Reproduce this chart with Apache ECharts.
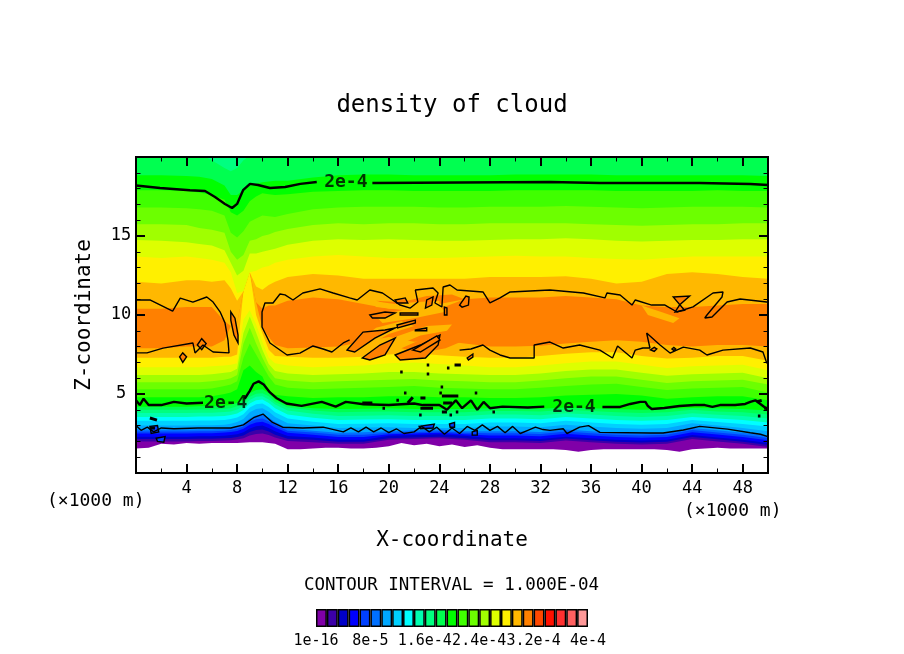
<!DOCTYPE html>
<html>
<head>
<meta charset="utf-8">
<title>density of cloud</title>
<script src="https://cdn.jsdelivr.net/npm/echarts@6/dist/echarts.min.js"></script>
<style>
  html, body { margin: 0; padding: 0; background: #fff; }
  #chart { width: 904px; height: 654px; }
</style>
</head>
<body>
<div id="chart"></div>
<script>
// colour cells of the key, lowest first (each is 1.6e-5 wide)
var cellColors = ['#8000A8', '#3C00A8', '#0000C8', '#0000FF', '#0040FF', '#0070FF', '#00A8FF', '#00D0FF', '#00FFFF',
  '#00FFB0', '#00FF80', '#00FF50', '#00FF00', '#40FF00', '#6CFF00', '#A0FF00', '#DDFF00', '#FFF000', '#FFB800',
  '#FF8000', '#FF4800', '#FF1000', '#FF3030', '#FF6060', '#FF9898'];
var cellWidth = 1.6e-5;
var keyLabels = ['1e-16', '8e-5', '1.6e-4', '2.4e-4', '3.2e-4', '4e-4'];

// x (km) where the colour edges were read
var xGrid = [0, 2, 4, 5, 6, 7, 7.5, 8, 8.5, 9, 9.5, 10, 10.5, 11, 12, 14, 16, 18, 20, 22, 24, 26, 28, 30, 32, 34, 36, 38, 40, 42, 44, 46, 48, 50];
var xFine = [0, 1, 2, 3, 4, 5, 6, 7, 8, 9, 10, 11, 12, 13, 14, 15, 16, 17, 18, 19, 20, 21, 22, 23, 24, 25, 26, 27, 28, 29, 30, 31, 32, 33, 34, 35, 36, 37, 38, 39, 40, 41, 42, 43, 44, 45, 46, 47, 48, 49, 50];

// lower edge of the purple, on xFine
var edge1 = [1.55, 1.6, 1.85, 1.8, 1.9, 1.85, 1.9, 1.9, 1.9, 1.95, 1.95, 1.85, 1.5, 1.5, 1.55, 1.6, 1.6, 1.55, 1.55, 1.6, 1.7, 1.9, 1.75, 1.85, 1.7, 1.8, 1.65, 1.75, 1.6, 1.5, 1.5, 1.5, 1.5, 1.5, 1.45, 1.35, 1.45, 1.5, 1.5, 1.5, 1.5, 1.5, 1.45, 1.35, 1.5, 1.55, 1.6, 1.55, 1.55, 1.55, 1.55];

// lower edge of each next cell going up, on xGrid
var edge2 = [2.0, 2.0, 2.0, 2.02, 2.02, 2.05, 2.07, 2.12, 2.2, 2.38, 2.47, 2.5, 2.4, 2.25, 2.02, 1.95, 1.85, 1.85, 2.1, 2.15, 2.2, 2.1, 1.95, 1.95, 1.9, 2.05, 1.95, 1.85, 1.8, 1.85, 2.15, 2.0, 1.85, 1.65];
var edge3 = [2.15, 2.15, 2.15, 2.16, 2.16, 2.2, 2.22, 2.28, 2.38, 2.6, 2.72, 2.75, 2.62, 2.42, 2.17, 2.1, 1.98, 1.98, 2.2, 2.25, 2.3, 2.2, 2.08, 2.08, 2.03, 2.18, 2.08, 1.98, 1.93, 1.98, 2.28, 2.13, 1.98, 1.78];
var edge4 = [2.3, 2.3, 2.3, 2.32, 2.32, 2.36, 2.4, 2.45, 2.58, 2.82, 2.96, 3.0, 2.85, 2.65, 2.34, 2.25, 2.1, 2.1, 2.35, 2.4, 2.45, 2.35, 2.2, 2.2, 2.15, 2.3, 2.2, 2.1, 2.05, 2.1, 2.4, 2.25, 2.1, 1.9];
var edge5 = [2.5, 2.5, 2.5, 2.52, 2.52, 2.56, 2.6, 2.66, 2.8, 3.05, 3.2, 3.25, 3.1, 2.88, 2.54, 2.42, 2.28, 2.28, 2.45, 2.5, 2.55, 2.45, 2.38, 2.38, 2.33, 2.48, 2.38, 2.28, 2.23, 2.28, 2.58, 2.43, 2.28, 2.08];
var edge6 = [2.62, 2.62, 2.62, 2.64, 2.64, 2.68, 2.72, 2.8, 2.95, 3.25, 3.4, 3.45, 3.28, 3.05, 2.68, 2.56, 2.42, 2.42, 2.55, 2.6, 2.65, 2.55, 2.52, 2.52, 2.47, 2.62, 2.52, 2.42, 2.37, 2.42, 2.72, 2.57, 2.42, 2.22];
var edge7 = [2.75, 2.75, 2.75, 2.77, 2.77, 2.82, 2.86, 2.95, 3.13, 3.45, 3.65, 3.7, 3.5, 3.22, 2.82, 2.68, 2.55, 2.58, 2.65, 2.7, 2.75, 2.65, 2.65, 2.65, 2.6, 2.75, 2.65, 2.55, 2.5, 2.55, 2.85, 2.7, 2.55, 2.35];
var edge8 = [3.0, 3.0, 3.0, 3.02, 3.02, 3.06, 3.12, 3.22, 3.42, 3.85, 4.05, 4.1, 3.88, 3.55, 3.15, 3.0, 2.85, 2.88, 2.9, 2.85, 2.85, 2.85, 2.95, 2.95, 2.9, 3.05, 2.95, 2.85, 2.8, 2.85, 3.15, 3.0, 2.85, 2.65];
var edge9 = [3.3, 3.3, 3.3, 3.32, 3.32, 3.36, 3.42, 3.52, 3.72, 4.15, 4.35, 4.4, 4.18, 3.85, 3.45, 3.25, 3.1, 3.12, 3.15, 3.1, 3.1, 3.1, 3.2, 3.2, 3.15, 3.3, 3.2, 3.1, 3.05, 3.1, 3.35, 3.22, 3.1, 2.95];
var edge10 = [3.55, 3.55, 3.55, 3.57, 3.57, 3.6, 3.67, 3.77, 3.98, 4.4, 4.6, 4.65, 4.43, 4.1, 3.7, 3.5, 3.35, 3.38, 3.4, 3.35, 3.35, 3.35, 3.45, 3.45, 3.4, 3.55, 3.45, 3.35, 3.3, 3.35, 3.55, 3.45, 3.35, 3.2];
var edge11 = [3.8, 3.8, 3.8, 3.82, 3.82, 3.86, 3.9, 4.02, 4.22, 4.62, 4.82, 4.85, 4.65, 4.33, 3.95, 3.75, 3.6, 3.63, 3.65, 3.6, 3.6, 3.6, 3.7, 3.7, 3.65, 3.78, 3.7, 3.6, 3.55, 3.6, 3.78, 3.68, 3.6, 3.45];
var edge12 = [4.0, 4.0, 4.0, 4.02, 4.02, 4.06, 4.1, 4.22, 4.42, 4.82, 5.02, 5.05, 4.85, 4.5, 4.15, 3.95, 3.85, 3.87, 3.9, 3.85, 3.85, 3.85, 3.92, 3.92, 3.9, 4.0, 3.92, 3.85, 3.8, 3.85, 4.0, 3.9, 3.85, 3.7];
var edge13 = [4.2, 4.2, 4.2, 4.22, 4.22, 4.25, 4.3, 4.45, 4.65, 5.05, 5.25, 5.3, 5.05, 4.65, 4.25, 4.1, 4.05, 4.07, 4.1, 4.05, 4.05, 4.05, 4.1, 4.1, 4.07, 4.15, 4.1, 4.05, 4.0, 4.05, 4.12, 4.1, 4.05, 3.95];
var edge14 = [4.8, 4.8, 4.8, 4.8, 4.85, 5.0, 5.1, 5.3, 6.5, 6.8, 6.4, 6.1, 5.2, 4.95, 4.85, 4.75, 4.8, 4.8, 4.85, 4.85, 4.8, 4.8, 4.75, 4.75, 4.8, 4.9, 4.95, 5.0, 4.9, 4.7, 4.8, 4.85, 4.85, 4.6];
var edge15 = [5.3, 5.3, 5.3, 5.3, 5.35, 5.5, 5.6, 5.8, 7.3, 8.2, 7.5, 6.8, 6.1, 5.6, 5.4, 5.3, 5.35, 5.4, 5.45, 5.5, 5.4, 5.35, 5.3, 5.3, 5.4, 5.5, 5.6, 5.65, 5.45, 5.25, 5.35, 5.4, 5.45, 5.1];
var edge16 = [5.75, 5.75, 5.75, 5.75, 5.8, 5.9, 6, 6.2, 8.2, 9.2, 8.2, 7.3, 6.5, 6, 5.85, 5.75, 5.8, 5.85, 5.9, 5.95, 5.85, 5.8, 5.75, 5.75, 5.85, 6, 6.1, 6.1, 5.9, 5.7, 5.8, 5.85, 5.9, 5.6];
var edge17 = [6.2, 6.2, 6.2, 6.2, 6.25, 6.35, 6.4, 6.6, 8.86, 9.9, 8.9, 7.8, 6.9, 6.45, 6.3, 6.2, 6.25, 6.3, 6.4, 6.4, 6.3, 6.25, 6.2, 6.2, 6.3, 6.45, 6.55, 6.55, 6.35, 6.15, 6.25, 6.3, 6.35, 6];
var edge18 = [6.7, 6.7, 6.7, 6.7, 6.75, 6.8, 6.85, 6.95, 9.7, 10.3, 9.4, 8.3, 7.3, 6.95, 6.8, 6.7, 6.75, 6.8, 6.95, 7, 6.9, 6.8, 6.7, 6.7, 6.8, 6.95, 7.05, 7.05, 6.85, 6.65, 6.75, 6.8, 6.85, 6.5];
var edge19 = [7.3, 7.3, 7.3, 7.3, 7.3, 7.35, 7.35, 7.5, 11.5, 12.7, 10, 8.85, 7.8, 7.4, 7.35, 7.3, 7.3, 7.35, 7.5, 7.6, 7.45, 7.35, 7.3, 7.3, 7.4, 7.55, 7.65, 7.65, 7.4, 7.25, 7.3, 7.4, 7.4, 7.1];
var edge20 = [7.9, 7.9, 8.0, 8.0, 8.0, 8.4, 9.3, 9.5, 11.5, 12.7, 10.8, 9.2, 8.6, 8.1, 7.9, 7.95, 8.0, 8.3, 8.6, 8.3, 8.4, 8.2, 8.0, 8.0, 8.05, 8.2, 8.3, 8.4, 8.3, 8.1, 8.0, 8.1, 8.1, 8.0];

// upper edges, going back down the key
var topOrange = [10.4, 10.4, 10.5, 10.5, 10.5, 9.6, 9.3, 9.5, 11.5, 12.7, 10.8, 10.4, 10.6, 10.6, 10.9, 11.1, 11, 10.7, 10.4, 10.3, 10.4, 11, 11.1, 11.1, 11.1, 11.2, 11.1, 11, 10.6, 10.5, 10.5, 10.6, 10.7, 10.7];
var topAmber = [12.1, 12, 12.2, 12.2, 12.1, 12.2, 11.7, 10.9, 11.5, 12.7, 11.8, 11.6, 11.9, 12.1, 12.4, 12.6, 12.5, 12.3, 12.3, 12.3, 12.3, 12.3, 12.4, 12.4, 12.4, 12.45, 12.3, 12, 12.1, 12.6, 12.7, 12.6, 12.4, 12.3];
var topYellow = [13.7, 13.6, 13.7, 13.6, 13.5, 13.3, 12.7, 11.4, 11.5, 12.7, 12.8, 13, 13.1, 13.3, 13.5, 13.7, 13.8, 13.7, 13.6, 13.6, 13.6, 13.65, 13.7, 13.75, 13.7, 13.7, 13.6, 13.55, 13.5, 13.6, 13.7, 13.7, 13.7, 13.7];
var topLemon = [14.75, 14.7, 14.6, 14.5, 14.4, 14.1, 13.3, 12.5, 12.8, 13.9, 13.9, 14, 14.1, 14.2, 14.45, 14.7, 14.8, 14.75, 14.8, 14.75, 14.7, 14.7, 14.75, 14.8, 14.8, 14.85, 14.8, 14.7, 14.65, 14.7, 14.75, 14.75, 14.8, 14.8];
var topLime = [15.75, 15.75, 15.7, 15.5, 15.4, 15.2, 14, 13.5, 13.8, 14.7, 14.8, 15, 15.1, 15.25, 15.45, 15.7, 15.8, 15.75, 15.8, 15.8, 15.75, 15.75, 15.8, 15.8, 15.8, 15.8, 15.75, 15.7, 15.65, 15.7, 15.75, 15.75, 15.8, 15.8];
var topChartreuse = [16.8, 16.8, 16.75, 16.7, 16.6, 16.3, 15.2, 14.9, 15.3, 15.9, 16.1, 16.3, 16.25, 16.2, 16.4, 16.7, 16.8, 16.85, 16.85, 16.85, 16.8, 16.8, 16.85, 16.85, 16.85, 16.9, 16.85, 16.8, 16.75, 16.8, 16.85, 16.85, 16.85, 16.8];
var topLeaf = [17.9, 17.9, 17.85, 17.75, 17.6, 17.3, 16.5, 16.3, 16.6, 17.2, 17.5, 17.7, 17.65, 17.6, 17.65, 17.8, 17.85, 17.9, 17.9, 17.85, 17.85, 17.85, 17.85, 17.9, 17.9, 17.9, 17.9, 17.85, 17.85, 17.85, 17.85, 17.9, 17.85, 17.85];
var topGreen = [18.85, 18.85, 18.8, 18.75, 18.6, 18.2, 17.6, 17.6, 17.9, 18.2, 18.3, 18.4, 18.45, 18.5, 18.5, 18.7, 18.85, 18.9, 18.9, 18.85, 18.85, 18.85, 18.85, 18.9, 18.9, 18.9, 18.9, 18.85, 18.85, 18.85, 18.85, 18.85, 18.85, 18.8];
var topSpring = [20.2, 20.2, 20.2, 20.2, 19.8, 19.3, 19.1, 19.3, 19.8, 20.1, 20.2, 20.2, 20.2, 20.2, 20.2, 20.2, 20.2, 20.2, 20.2, 20.2, 20.2, 20.2, 20.2, 20.2, 20.2, 20.2, 20.2, 20.2, 20.2, 20.2, 20.2, 20.2, 20.2, 20.2];

// 2e-4 contours, cut where the label sits
var line2e4Top1 = [[0, 18.2], [1.9, 18.04], [4.27, 17.9], [5.46, 17.85], [6.25, 17.47], [7.04, 17.03], [7.6, 16.77], [8, 17.03], [8.47, 17.9], [9.02, 18.3], [9.65, 18.23], [10.6, 18.04], [11.8, 18.1], [13, 18.3], [14.3, 18.42]];
var line2e4Top2 = [[18.7, 18.35], [32.75, 18.42], [36.7, 18.35], [44.6, 18.35], [48.6, 18.29], [50, 18.23]];
var line2e4Low1 = [[0, 4.6], [0.3, 4.3], [0.6, 4.7], [1, 4.3], [2, 4.3], [3, 4.5], [4, 4.4], [5.3, 4.45]];
var line2e4Low2 = [[8.6, 4.7], [9, 5.2], [9.3, 5.65], [9.7, 5.8], [10.1, 5.6], [10.6, 5.1], [11.1, 4.75], [11.9, 4.4], [13.1, 4.25], [14.7, 4.5], [15.8, 4.2], [16.6, 4.5], [18, 4.35], [20, 4.3], [22, 4.4], [22.7, 4.3], [24, 4.3], [24.6, 4.0], [25.3, 4.6], [25.8, 4.1], [26.5, 4.6], [27, 4.0], [27.5, 4.5], [28, 4.1], [29, 4.2], [31, 4.15], [32.3, 4.2]];
var line2e4Low3 = [[36.9, 4.18], [38.3, 4.18], [39.1, 4.37], [39.9, 4.5], [40.3, 4.5], [40.5, 4.24], [40.8, 4.05], [41.8, 4.11], [43, 4.24], [44.2, 4.3], [45, 4.3], [45.6, 4.18], [46.2, 4.3], [47.4, 4.3], [48.2, 4.37], [48.6, 4.5], [49, 4.6], [49.5, 4.3], [50, 4.0]];

// 1e-4 contour
var line1e4 = [[0, 3.0], [0.4, 2.7], [0.9, 2.9], [1.4, 2.6], [2, 2.85], [3, 2.8], [4.9, 2.85], [7.5, 2.85], [8.5, 3.05], [9.3, 3.5], [10.05, 3.73], [10.8, 3.2], [11.6, 2.9], [13.2, 2.85], [14.8, 2.9], [16.4, 2.6], [17, 2.85], [17.6, 2.6], [18.2, 2.9], [18.8, 2.6], [19.4, 2.85], [20, 2.55], [20.6, 2.8], [21.2, 2.5], [22, 2.6], [22.6, 2.95], [23.2, 2.6], [23.8, 2.9], [24.4, 2.45], [25, 2.85], [25.6, 2.5], [26.2, 2.95], [26.8, 2.7], [27.4, 3.05], [28, 2.7], [28.6, 2.95], [29.2, 2.55], [29.8, 2.95], [30.4, 2.5], [31, 2.7], [31.6, 2.9], [32.2, 2.75], [32.75, 2.7], [33.8, 2.8], [34.1, 2.5], [35.1, 2.9], [35.8, 3.0], [36.7, 2.57], [40.7, 2.53], [41.7, 2.53], [43.3, 2.72], [44.6, 2.95], [46.8, 2.78], [48.6, 2.55], [49.4, 2.45], [50, 2.3]];

// 3e-4 contours
var line3e4Left = [[0, 10.95], [1.1, 10.95], [2.9, 10.25], [3.5, 11.07], [4.5, 10.82], [5.6, 11.14], [6.1, 10.82], [6.65, 10.2], [7.04, 9.5], [7.28, 8.4], [7.36, 7.6], [6.1, 7.66], [5.3, 8.1], [4.67, 7.6], [4.5, 8.23], [2.14, 7.9], [0.87, 7.6], [0, 7.6]];
var line3e4Mid = [[16.9, 8.42], [16.4, 8.23], [15.5, 7.66], [14.8, 7.85], [14, 8.04], [12.97, 7.59], [11.95, 7.47], [10.6, 8.23], [9.97, 9.24], [9.97, 10.19], [10.2, 10.76], [10.84, 10.76], [11.39, 11.33], [11.79, 11.27], [12.42, 10.95], [13.2, 11.39], [14.56, 11.65], [15.6, 11.39], [16.9, 11.08], [17.5, 10.95], [18.5, 11.58], [19.5, 11.39], [20.3, 10.95], [20.9, 10.63], [21.7, 10.44], [22.3, 10.82], [22.1, 11.58], [23.5, 11.71], [23.9, 11.39], [23.65, 10.76], [24.2, 10.51], [24.3, 11.77], [24.84, 11.9], [25.4, 11.58], [27.45, 11.46], [28, 10.76], [28.8, 11.08], [29.6, 11.46], [32.75, 11.58], [35.4, 11.39], [37.1, 11.08], [37.26, 11.39], [38.3, 11.27], [39.24, 10.63], [39.5, 10.95], [40.8, 10.63], [41.85, 10.63], [42.8, 10.19], [44.07, 10.51], [45.65, 11.39], [46.44, 11.46], [46.36, 11.14], [45.17, 10], [45, 9.81], [45.57, 9.87], [46.76, 10.82], [47.8, 11.01], [49.9, 10.82], [50, 10.8]];
var line3e4Low = [[25.6, 7.78], [26.5, 7.85], [27.45, 8.1], [28, 7.78], [28.8, 7.47], [29.6, 7.28], [30.7, 7.28], [31.5, 7.28], [31.5, 8.1], [32.75, 8.29], [33.8, 7.91], [35.1, 8.1], [36.7, 7.78], [37.7, 7.28], [38.1, 8.04], [39.24, 7.28], [39.5, 7.78], [40.1, 7.91], [40.66, 7.91], [40.4, 8.86], [41.46, 8.1], [42.25, 7.59], [43.3, 7.97], [44.6, 7.78], [45.17, 7.47], [46.44, 7.78], [48.6, 7.91], [49.6, 7.66], [49.9, 6.96], [50, 7]];

// closed 3e-4 loops, the air inside is orange
var loops3e4 = [
  [[7.5, 10.2], [7.83, 9.8], [8.07, 8.73], [8.07, 8.23], [7.75, 8.73], [7.5, 9.68]],
  [[3.45, 7.35], [3.7, 7.6], [4.0, 7.35], [3.7, 7.0]],
  [[4.85, 8.1], [5.2, 8.5], [5.55, 8.2], [5.2, 7.8]],
  [[16.7, 7.78], [17.96, 8.92], [19.7, 9.05], [20.5, 9.18], [18.9, 8.54], [17.3, 7.66]],
  [[17.9, 7.28], [19.3, 8.1], [20.5, 8.54], [19.7, 7.47], [18.5, 7.15]],
  [[20.5, 7.47], [22.5, 8.1], [24.05, 8.73], [23.9, 8.1], [22.9, 7.28], [20.9, 7.15]],
  [[18.5, 10], [19.7, 10.19], [20.5, 10.13], [19.7, 9.81], [18.7, 9.81]],
  [[20.5, 10.95], [21.3, 11.08], [21.5, 10.76], [20.65, 10.76]],
  [[20.9, 10.13], [22.3, 10.13], [22.3, 10], [20.9, 10]],
  [[22.9, 10.44], [23, 10.95], [23.5, 11.14], [23.4, 10.63]],
  [[24.4, 10.5], [24.6, 10.44], [24.6, 10], [24.4, 10]],
  [[25.6, 10.63], [26.1, 11.2], [26.35, 11.14], [26.3, 10.63], [25.8, 10.5]],
  [[22.1, 9.05], [23, 9.18], [23, 9], [22.1, 9]],
  [[21.9, 7.78], [23.8, 8.67], [24.05, 8.42], [22.5, 7.66]],
  [[26.2, 7.28], [26.65, 7.53], [26.65, 7.34], [26.3, 7.15]],
  [[20.65, 9.37], [22.1, 9.68], [22.1, 9.5], [20.7, 9.18]],
  [[42.5, 11.14], [43.8, 11.2], [43, 10.63], [42.65, 10.19], [43.4, 10.3]],
  [[40.7, 7.8], [41, 7.95], [41.2, 7.85], [41, 7.7]],
  [[42.4, 7.85], [42.55, 7.95], [42.7, 7.85], [42.55, 7.75]]
];

// loose streaks of the orange cell among the amber
var orangeStreaks = [
  [[21, 7.9], [23, 8.6], [25, 9], [26, 8.4], [24.5, 7.9], [22.5, 7.6]],
  [[19, 10.9], [21, 10.8], [23, 11.2], [25, 11.3], [26, 11], [24, 10.7], [21, 10.4]]
];

// amber streaks cutting through the orange
var amberStreaks = [
  [[17.5, 8.3], [19, 9.2], [21, 9.6], [22, 9.3], [20, 8.8], [18.5, 8.1]],
  [[20.5, 8.6], [23, 9.3], [25, 9.4], [24.6, 9], [22.5, 8.7], [21, 8.2]],
  [[19, 9.9], [21.5, 10.4], [24, 10.6], [24.5, 10.2], [22, 9.8], [19.5, 9.5]],
  [[18.5, 10.9], [20.5, 10.7], [22, 10.8], [24, 10.9], [24, 10.6], [21.5, 10.3], [19, 10.5]],
  [[40, 10.6], [41.5, 10.2], [43, 9.8], [42.5, 9.5], [40.5, 10]]
];

// tiny 1e-4 rings low down
var loops1e4 = [
  [[1.1, 2.95], [1.7, 3.0], [1.8, 2.6], [1.2, 2.5]],
  [[1.6, 2.2], [2.3, 2.3], [2.2, 1.95], [1.7, 2.0]],
  [[22.4, 2.95], [23.6, 3.1], [23.5, 2.85], [22.5, 2.8]],
  [[24.8, 3.1], [25.2, 3.2], [25.2, 2.9], [24.85, 2.9]],
  [[26.6, 2.6], [27, 2.7], [27, 2.4], [26.6, 2.4]]
];

// little black specks where the 2e-4 surface breaks up
var specks = [
  [[17.9, 4.43], [18.7, 4.43]], [[19.5, 4.1], [19.7, 4.1]], [[20.6, 4.6], [20.8, 4.6]], [[21.2, 5.06], [21.4, 5.06]],
  [[21.5, 4.43], [21.9, 4.8]], [[22.5, 4.75], [22.9, 4.75]], [[22.5, 4.1], [23.5, 4.1]], [[24.2, 4.87], [25.5, 4.87]],
  [[24.1, 5.44], [24.3, 5.44]], [[24, 5.06], [24.2, 5.06]], [[24.3, 4.43], [25, 4.43]], [[24.2, 3.86], [24.6, 3.86]],
  [[24.8, 3.67], [25, 3.67]], [[26.8, 5.06], [27, 5.06]], [[25.3, 3.86], [25.5, 3.86]], [[28.2, 3.86], [28.4, 3.86]],
  [[22.4, 3.67], [22.6, 3.67]], [[23, 6.84], [23.2, 6.84]], [[24.6, 6.65], [24.8, 6.65]], [[25.2, 6.84], [25.7, 6.84]],
  [[20.9, 6.4], [21.1, 6.4]], [[23, 6.27], [23.2, 6.27]], [[1.1, 3.48], [1.66, 3.35]], [[1.1, 2.85], [1.5, 2.85]],
  [[49.1, 4.5], [49.5, 4.6]], [[49.2, 3.6], [49.4, 3.6]], [[49.7, 4.1], [50, 4.1]]
];

// inline contour labels
var contourLabels = [[16.6, 18.4], [7.1, 4.43], [34.65, 4.18]];

var xMajor = [0, 4, 8, 12, 16, 20, 24, 28, 32, 36, 40, 44, 48];
var xMinor = [2, 6, 10, 14, 18, 22, 26, 30, 34, 38, 42, 46];
var zMajor = [0, 5, 10, 15, 20];
var zMinor = [1, 2, 3, 4, 6, 7, 8, 9, 11, 12, 13, 14, 16, 17, 18, 19];

var mono = '"DejaVu Sans Mono"';

var chart = echarts.init(document.getElementById('chart'), null, { renderer: 'canvas' });

function bandSeries(xs, zs, color) {
  return {
    type: 'line', xAxisIndex: 0, yAxisIndex: 0, animation: false, silent: true, showSymbol: false, z: 3,
    lineStyle: { width: 0 },
    areaStyle: { color: color, opacity: 1, origin: 'end' },
    data: xs.map(function (x, i) { return [x, zs[i]]; })
  };
}
function contourSeries(points, width) {
  return {
    type: 'line', xAxisIndex: 0, yAxisIndex: 0, animation: false, silent: true, showSymbol: false, z: 6,
    lineStyle: { color: '#000', width: width },
    data: points
  };
}
function patchSeries(loops, fill, stroke, z) {
  return {
    type: 'custom', xAxisIndex: 0, yAxisIndex: 0, animation: false, silent: true, clip: true, z: z,
    data: loops.map(function (l, i) { return [l[0][0], l[0][1], i]; }),
    renderItem: function (params, api) {
      return {
        type: 'polygon',
        shape: { points: loops[api.value(2)].map(function (p) { return api.coord(p); }) },
        style: { fill: fill, stroke: stroke, lineWidth: stroke ? 1.4 : 0 }
      };
    }
  };
}
function frameAxis(kind, position, values, length, width) {
  return {
    type: 'value', gridIndex: 0, position: position, z: 10, silent: true,
    min: 0, max: kind === 'x' ? 50 : 20,
    splitLine: { show: false },
    axisLine: { onZero: false, show: true, lineStyle: { color: '#000', width: 2 } },
    axisLabel: { show: false },
    axisTick: { inside: true, length: length, customValues: values, lineStyle: { color: '#000', width: width } }
  };
}

var series = [];
series.push(bandSeries(xFine, edge1, cellColors[0]));
[edge2, edge3, edge4, edge5, edge6, edge7, edge8, edge9, edge10, edge11, edge12, edge13, edge14, edge15, edge16, edge17, edge18, edge19, edge20].forEach(function (zs, i) {
  series.push(bandSeries(xGrid, zs, cellColors[i + 1]));
});
[topOrange, topAmber, topYellow, topLemon, topLime, topChartreuse, topLeaf, topGreen, topSpring].forEach(function (zs, i) {
  series.push(bandSeries(xGrid, zs, cellColors[18 - i]));
});
series.push(patchSeries(orangeStreaks, cellColors[19], null, 4));
series.push(patchSeries(amberStreaks, cellColors[18], null, 4));
series.push(patchSeries(loops3e4, cellColors[19], '#000', 5));
series.push(patchSeries(loops1e4, cellColors[4], '#000', 5));
[line1e4, line3e4Left, line3e4Mid, line3e4Low].forEach(function (l) { series.push(contourSeries(l, 1.4)); });
[line2e4Top1, line2e4Top2, line2e4Low1, line2e4Low2, line2e4Low3].forEach(function (l) { series.push(contourSeries(l, 2.4)); });
specks.forEach(function (s) { series.push(contourSeries(s, 3)); });
series.push({
  type: 'scatter', xAxisIndex: 0, yAxisIndex: 0, animation: false, silent: true, symbolSize: 1, z: 7,
  itemStyle: { color: 'rgba(0,0,0,0)' },
  data: contourLabels,
  label: { show: true, position: 'inside', formatter: '2e-4', color: '#000', fontFamily: mono, fontSize: 18, fontWeight: 'bold' }
});
// key, one stacked bar per cell
cellColors.forEach(function (c) {
  series.push({
    type: 'bar', xAxisIndex: 4, yAxisIndex: 4, stack: 'key', animation: false, silent: true, barWidth: '100%',
    itemStyle: { color: c, borderColor: '#000', borderWidth: 1.5 },
    data: [cellWidth]
  });
});

var xBottom = frameAxis('x', 'bottom', xMajor, 9, 2);
xBottom.axisLabel = {
  show: true, color: '#000', fontFamily: mono, fontSize: 17, margin: 7, showMaxLabel: false, showMinLabel: false
};
xBottom.interval = 4;
xBottom.name = 'X-coordinate';
xBottom.nameLocation = 'middle';
xBottom.nameGap = 57;
xBottom.nameTextStyle = { color: '#000', fontFamily: mono, fontSize: 21 };

var zLeft = frameAxis('z', 'left', zMajor, 9, 2);
zLeft.interval = 5;
zLeft.axisLabel = {
  show: true, color: '#000', fontFamily: mono, fontSize: 17, margin: 15, align: 'center', showMaxLabel: false, showMinLabel: false
};
zLeft.name = 'Z-coordinate';
zLeft.nameLocation = 'middle';
zLeft.nameGap = 41;
zLeft.nameTextStyle = { color: '#000', fontFamily: mono, fontSize: 21 };

var option = {
  backgroundColor: '#fff',
  title: {
    text: 'density of cloud', left: 447, top: 89, textAlign: 'center',
    textStyle: { color: '#000', fontFamily: mono, fontSize: 24, fontWeight: 'normal' }
  },
  grid: [
    { left: 136, right: 136, top: 157, bottom: 181 },
    { left: 316, width: 272, top: 609, height: 18 }
  ],
  xAxis: [
    xBottom,
    frameAxis('x', 'top', xMajor, 9, 2),
    frameAxis('x', 'bottom', xMinor, 4.5, 1),
    frameAxis('x', 'top', xMinor, 4.5, 1),
    {
      type: 'value', gridIndex: 1, min: 0, max: 4e-4, interval: 8e-5,
      splitLine: { show: false }, axisLine: { show: false }, axisTick: { show: false },
      axisLabel: {
        color: '#000', fontFamily: mono, fontSize: 15, margin: 7,
        formatter: function (v, i) { return keyLabels[i]; }
      }
    }
  ],
  yAxis: [
    zLeft,
    frameAxis('z', 'right', zMajor, 9, 2),
    frameAxis('z', 'left', zMinor, 4.5, 1),
    frameAxis('z', 'right', zMinor, 4.5, 1),
    {
      type: 'category', gridIndex: 1, data: ['key'],
      axisLine: { show: false }, axisTick: { show: false }, axisLabel: { show: false }
    }
  ],
  graphic: [
    { type: 'text', left: 47, top: 492, style: { text: '(×1000 m)', fill: '#000', font: '18px ' + mono } },
    { type: 'text', left: 684, top: 502, style: { text: '(×1000 m)', fill: '#000', font: '18px ' + mono } },
    { type: 'text', left: 304, top: 576, style: { text: 'CONTOUR INTERVAL = 1.000E-04', fill: '#000', font: '17.5px ' + mono } }
  ],
  series: series
};
chart.setOption(option);
</script>
</body>
</html>
